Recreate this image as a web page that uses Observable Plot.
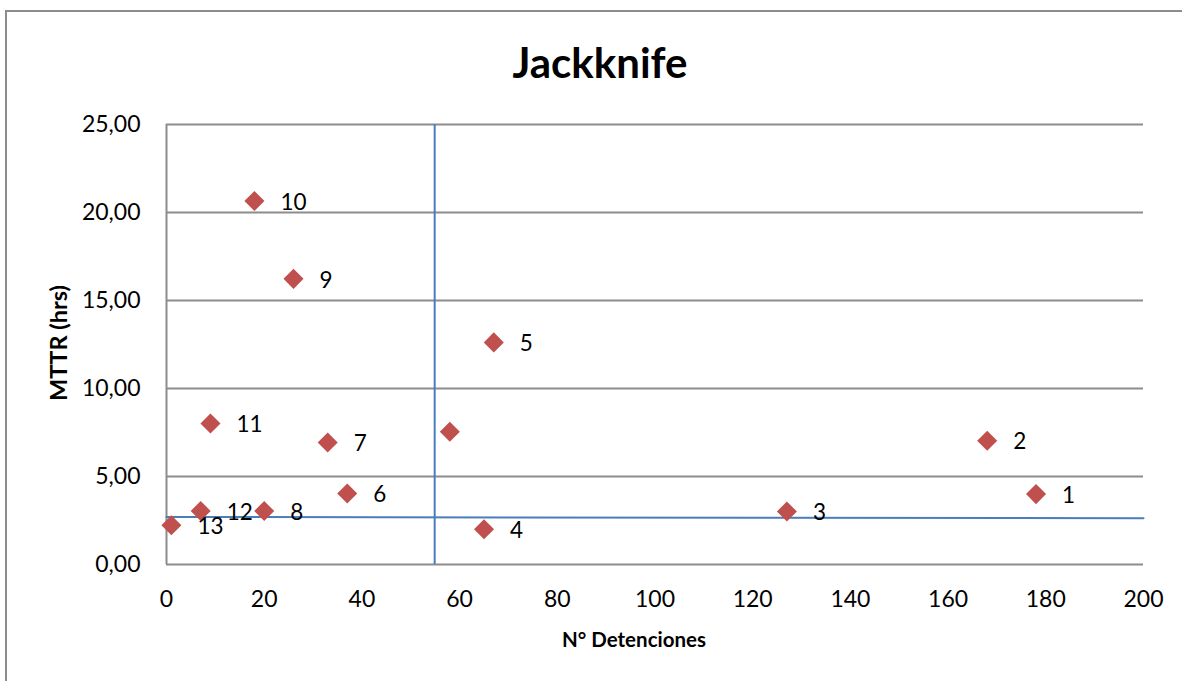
<!DOCTYPE html>
<html>
<head>
<meta charset="utf-8">
<script src="https://cdn.jsdelivr.net/npm/d3@7"></script>
<script src="https://cdn.jsdelivr.net/npm/@observablehq/plot@0.6"></script>
<style>
  html, body { margin: 0; padding: 0; background: #fff; }
  #wrap { position: relative; width: 1182px; height: 681px; overflow: hidden; font-family: Lato, "Open Sans", sans-serif; }
  #frame { position: absolute; left: 5px; top: 10px; width: 1300px; height: 800px; border-left: 2px solid #8c8c8c; border-top: 2px solid #8c8c8c; box-sizing: border-box; }
  .lbl { position: absolute; transform: translate(-50%, -50%); line-height: 1; white-space: nowrap; color: #000; font-weight: 700; }
  #title { left: 600px; top: 62px; font-size: 42px; }
  #xlab { left: 634px; top: 639px; font-size: 20.5px; }
  #ylab { left: 59px; top: 343px; font-size: 23.5px; transform: translate(-50%, -50%) rotate(-90deg); }
  #chart { position: absolute; left: 0; top: 0; }
</style>
</head>
<body>
<div id="wrap">
  <div id="frame"></div>
  <div id="chart"></div>
  <div class="lbl" id="title">Jackknife</div>
  <div class="lbl" id="xlab">N° Detenciones</div>
  <div class="lbl" id="ylab">MTTR (hrs)</div>
</div>
<script>
// Data
const labels = ["1", "2", "3", "4", "5", "6", "7", "8", "9", "10", "11", "12", "13", ""];
const detenciones = [178, 168, 127, 65, 67, 37, 33, 20, 26, 18, 9, 7, 1, 58];
const mttr = [4.00, 7.03, 3.01, 2.00, 12.62, 4.03, 6.93, 3.04, 16.23, 20.65, 8.01, 3.04, 2.23, 7.54];

// Reference lines (means)
const meanDetenciones = 54.9;
const meanLineX = [0, 200];
const meanLineY = [2.70, 2.63];

const xTicks = [0, 20, 40, 60, 80, 100, 120, 140, 160, 180, 200];
const yTicks = [0, 5, 10, 15, 20, 25];

const points = labels.map((l, i) => ({label: l, x: detenciones[i], y: mttr[i]}));
const hLine = meanLineX.map((x, i) => ({x, y: meanLineY[i]}));

const fmt = d => d.toFixed(2).replace(".", ",");

const chart = Plot.plot({
  width: 1182,
  height: 681,
  marginLeft: 166,
  marginRight: 39,
  marginTop: 124,
  marginBottom: 117,
  style: {fontFamily: "Lato, 'Open Sans', sans-serif", fontSize: "23px", color: "#000", background: "transparent"},
  x: {domain: [0, 200]},
  y: {domain: [0, 25]},
  marks: [
    Plot.gridY(yTicks, {stroke: "#8c8c8c", strokeOpacity: 1, strokeWidth: 2}),
    Plot.ruleX([0], {y1: 0, y2: 25, stroke: "#8c8c8c", strokeWidth: 2}),
    Plot.axisX(xTicks, {tickSize: 0, tickPadding: 26, fontSize: 23, label: null, tickFormat: d => String(d)}),
    Plot.axisY(yTicks, {tickSize: 0, tickPadding: 26, fontSize: 23, label: null, tickFormat: fmt}),
    Plot.ruleX([meanDetenciones], {y1: 0, y2: 25, stroke: "#4a7ebb", strokeWidth: 2}),
    Plot.line(hLine, {x: "x", y: "y", stroke: "#4a7ebb", strokeWidth: 2}),
    Plot.dot(points, {x: "x", y: "y", symbol: "square", rotate: 45, r: 8, fill: "#c0504d", stroke: "none"}),
    Plot.text(points, {x: "x", y: "y", text: "label", dx: 26, dy: 1.5, textAnchor: "start", fontSize: 22.5, fill: "#000"})
  ]
});
document.getElementById("chart").appendChild(chart);
</script>
</body>
</html>
